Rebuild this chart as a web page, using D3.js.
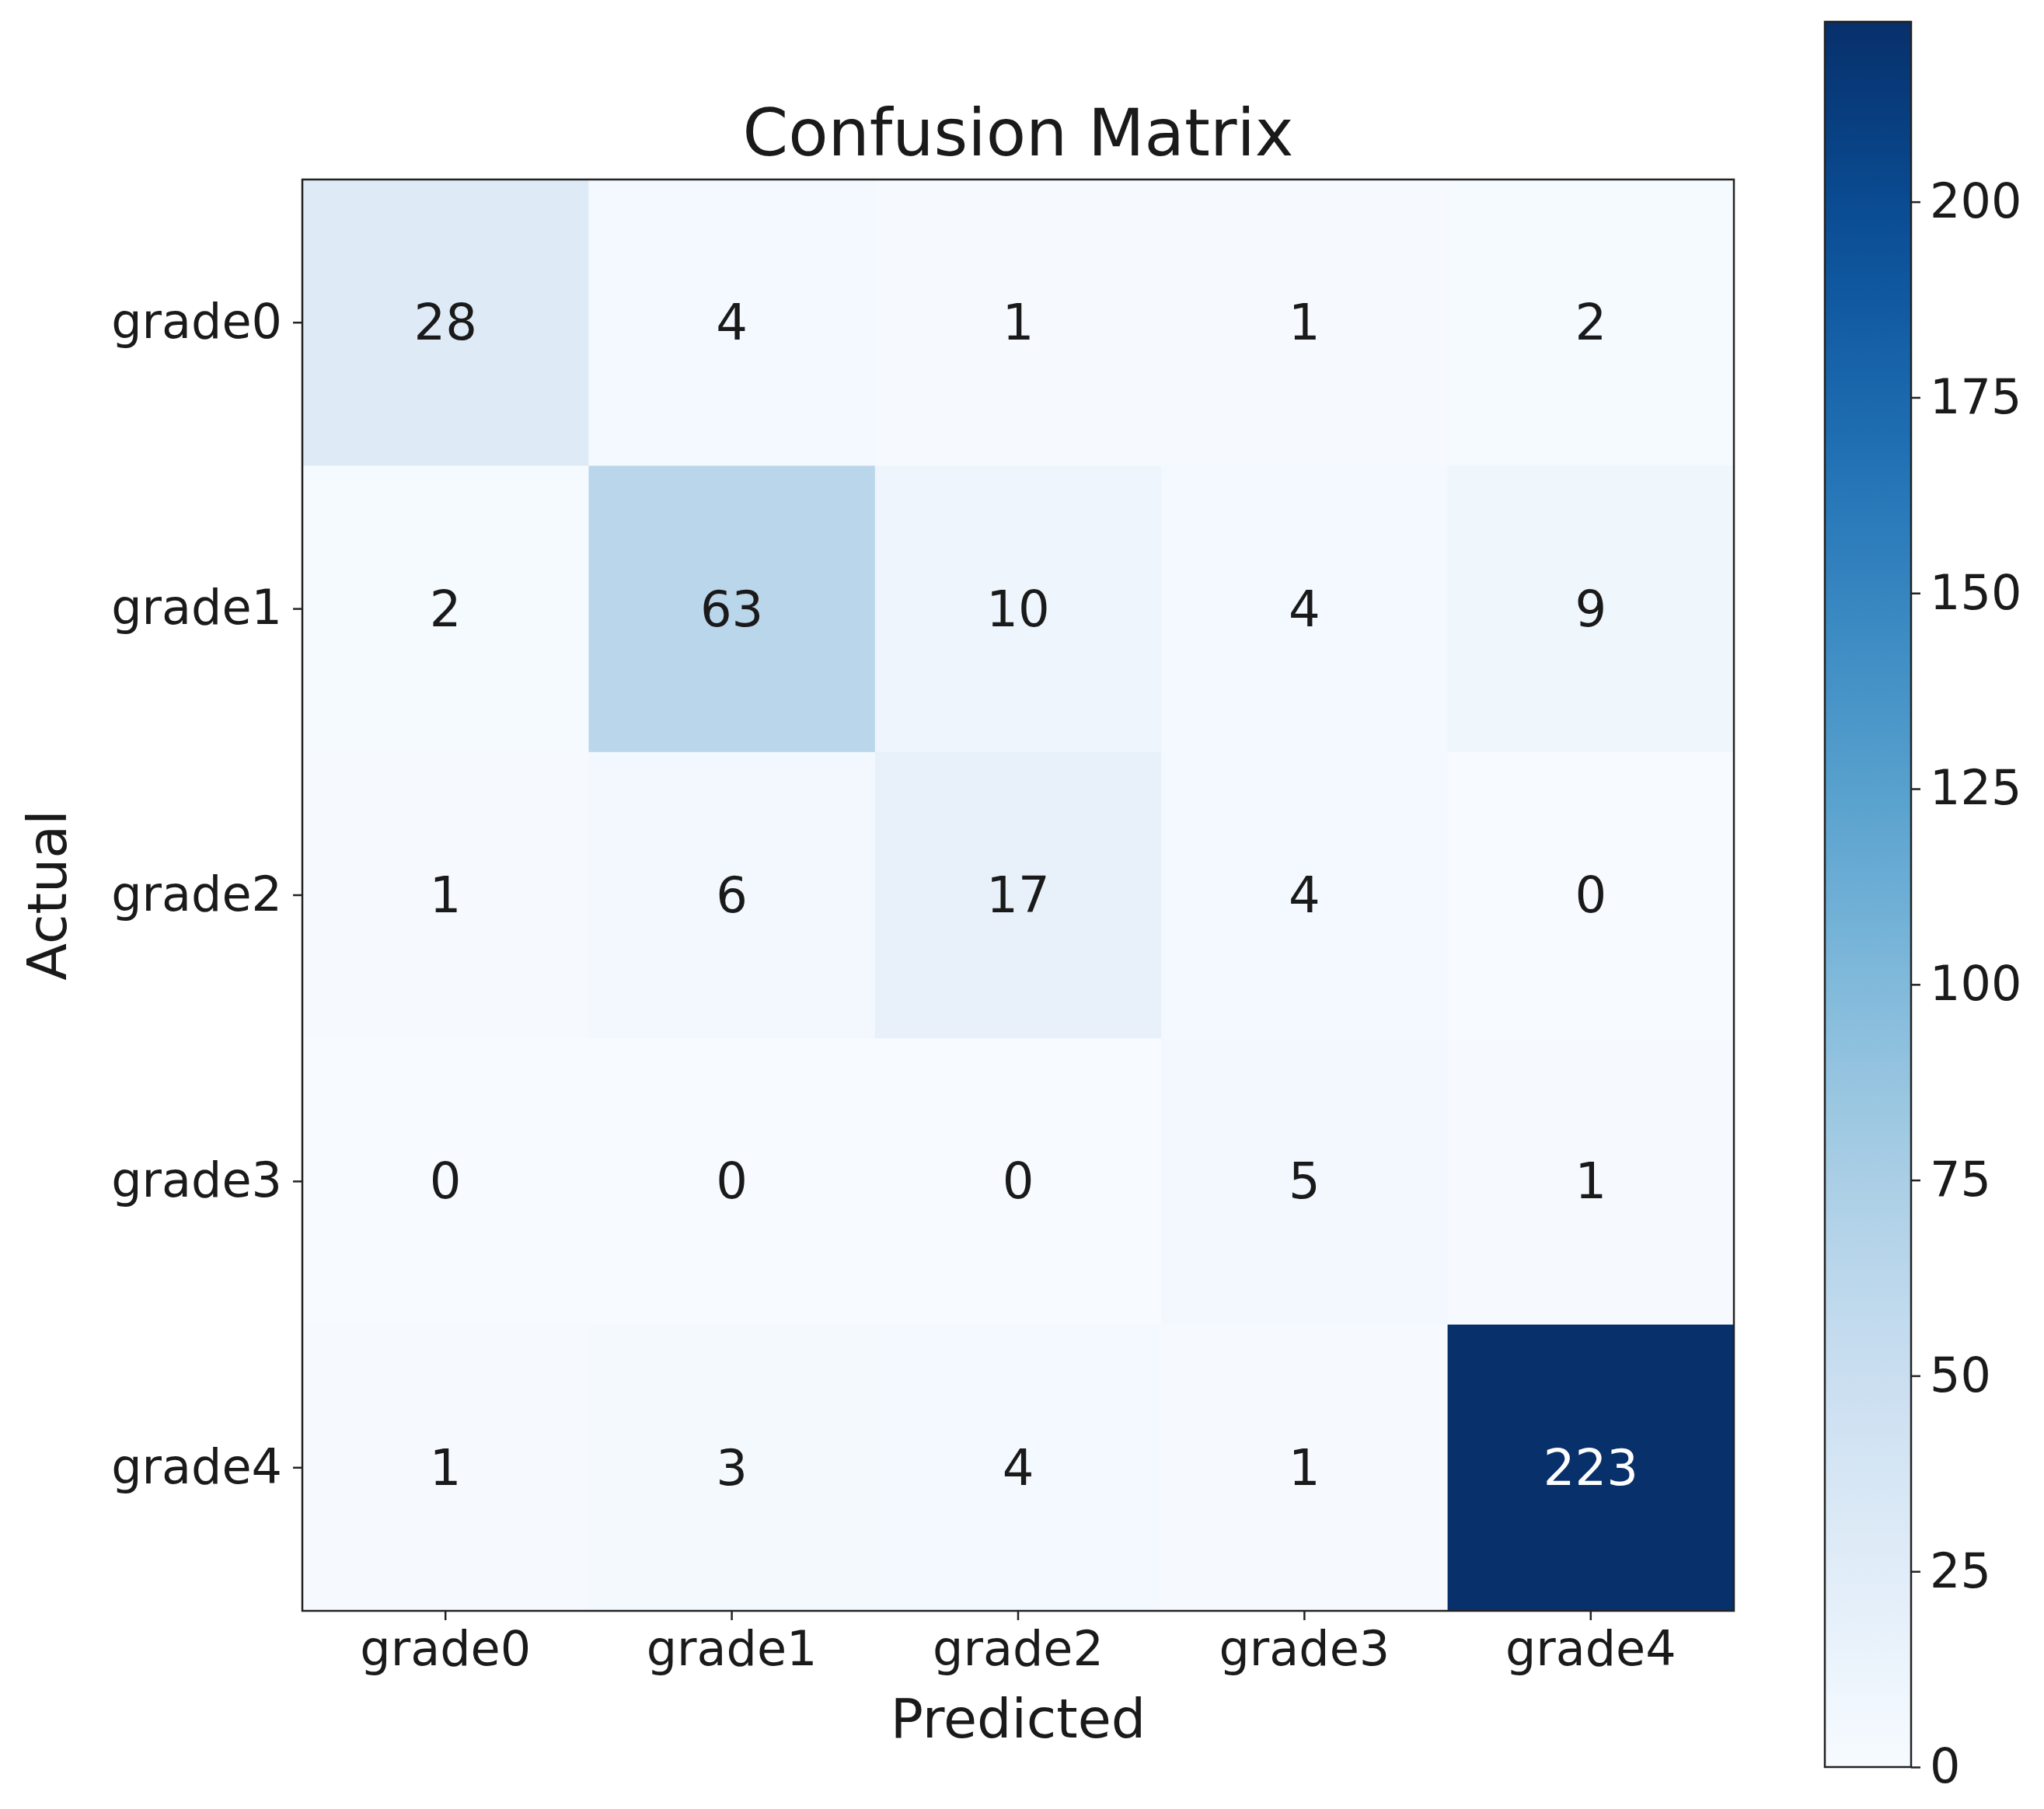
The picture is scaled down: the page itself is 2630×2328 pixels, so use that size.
<!DOCTYPE html>
<html>
<head>
<meta charset="utf-8">
<script src="https://cdn.jsdelivr.net/npm/d3@7"></script>
<style>
body { margin: 0; background: #fff; }
text { font-family: "DejaVu Sans", sans-serif; fill: #1a1a1a; }
</style>
</head>
<body>
<svg></svg>
<script>
let labels = ['grade0', 'grade1', 'grade2', 'grade3', 'grade4']
let matrix = [
    [28, 4, 1, 1, 2],
    [2, 63, 10, 4, 9],
    [1, 6, 17, 4, 0],
    [0, 0, 0, 5, 1],
    [1, 3, 4, 1, 223]
]
let cbTicks = [0, 25, 50, 75, 100, 125, 150, 175, 200]

let width = 2630
let height = 2328
let mLeft = 389, mRight = 2231, mTop = 231, mBottom = 2073
let cbLeft = 2348, cbRight = 2459, cbTop = 28, cbBottom = 2274

let svg = d3.select('svg').attr('width', width).attr('height', height)

let maxVal = d3.max(matrix.flat())
let color = d3.scaleSequential(d3.interpolateBlues).domain([0, maxVal])

let xScale = d3.scaleBand().domain(labels).range([mLeft, mRight])
let yScale = d3.scaleBand().domain(labels).range([mTop, mBottom])

let cells = []
matrix.forEach((row, i) => row.forEach((v, j) => cells.push({ r: labels[i], c: labels[j], v: v })))

svg.selectAll('rect.cell')
    .data(cells)
    .enter()
    .append('rect')
    .attr('class', 'cell')
    .attr('x', d => xScale(d.c))
    .attr('y', d => yScale(d.r))
    .attr('width', xScale.bandwidth() + 0.5)
    .attr('height', yScale.bandwidth() + 0.5)
    .attr('fill', d => color(d.v))

svg.selectAll('text.val')
    .data(cells)
    .enter()
    .append('text')
    .attr('class', 'val')
    .attr('x', d => xScale(d.c) + xScale.bandwidth() / 2)
    .attr('y', d => yScale(d.r) + yScale.bandwidth() / 2)
    .attr('text-anchor', 'middle')
    .attr('dominant-baseline', 'central')
    .style('font-size', '64px')
    .style('fill', d => d.v > maxVal / 2 ? '#ffffff' : '#1a1a1a')
    .text(d => d.v)

svg.append('rect')
    .attr('x', mLeft).attr('y', mTop)
    .attr('width', mRight - mLeft).attr('height', mBottom - mTop)
    .attr('fill', 'none').attr('stroke', '#222').attr('stroke-width', 2.5)

let xAxis = svg.append('g')
    .attr('transform', 'translate(0,' + mBottom + ')')
    .call(d3.axisBottom(xScale).tickSize(12).tickPadding(14))
let yAxis = svg.append('g')
    .attr('transform', 'translate(' + mLeft + ',0)')
    .call(d3.axisLeft(yScale).tickSize(12).tickPadding(14))
;[xAxis, yAxis].forEach(a => {
    a.select('.domain').remove()
    a.selectAll('line').attr('stroke', '#222').attr('stroke-width', 2.5)
    a.selectAll('text').style('font-size', '62px').attr('fill', '#1a1a1a').attr('font-family', 'DejaVu Sans')
})

svg.append('text')
    .attr('x', (mLeft + mRight) / 2).attr('y', 200)
    .attr('text-anchor', 'middle')
    .style('font-size', '84px')
    .text('Confusion Matrix')

svg.append('text')
    .attr('x', (mLeft + mRight) / 2).attr('y', 2236)
    .attr('text-anchor', 'middle')
    .style('font-size', '70px')
    .text('Predicted')

svg.append('text')
    .attr('transform', 'translate(85,' + ((mTop + mBottom) / 2) + ') rotate(-90)')
    .attr('text-anchor', 'middle')
    .style('font-size', '70px')
    .text('Actual')

// colorbar
let defs = svg.append('defs')
let grad = defs.append('linearGradient').attr('id', 'cb')
    .attr('x1', 0).attr('y1', 1).attr('x2', 0).attr('y2', 0)
d3.range(0, 1.0001, 0.05).forEach(t => {
    grad.append('stop').attr('offset', t).attr('stop-color', color(t * maxVal))
})
svg.append('rect')
    .attr('x', cbLeft).attr('y', cbTop)
    .attr('width', cbRight - cbLeft).attr('height', cbBottom - cbTop)
    .attr('fill', 'url(#cb)').attr('stroke', '#222').attr('stroke-width', 2.5)

let cbScale = d3.scaleLinear().domain([0, maxVal]).range([cbBottom, cbTop])
let cbAxis = svg.append('g')
    .attr('transform', 'translate(' + cbRight + ',0)')
    .call(d3.axisRight(cbScale).tickValues(cbTicks).tickSize(12).tickPadding(12))
cbAxis.select('.domain').remove()
cbAxis.selectAll('line').attr('stroke', '#222').attr('stroke-width', 2.5)
cbAxis.selectAll('text').style('font-size', '62px').attr('fill', '#1a1a1a').attr('font-family', 'DejaVu Sans')
</script>
</body>
</html>
